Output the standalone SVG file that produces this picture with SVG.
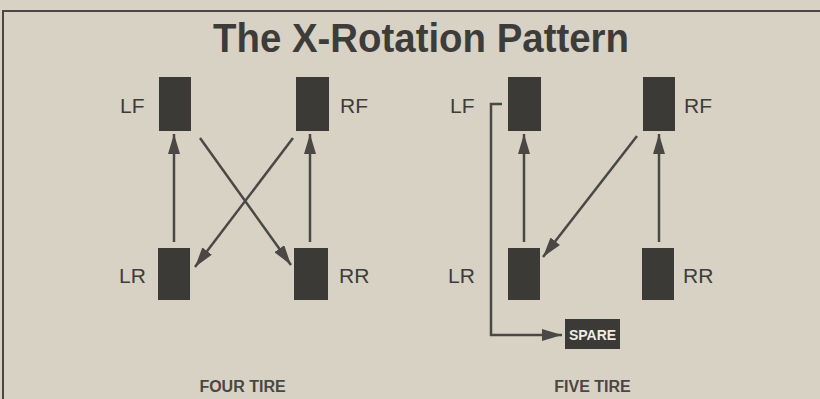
<svg xmlns="http://www.w3.org/2000/svg" width="820" height="399" viewBox="0 0 820 399">
<defs>
<style>
.bg{fill:#d8d2c5}
.frame{fill:none;stroke:#4a4744;stroke-width:2}
.tire{fill:#3c3a37}
.lbl{font-family:"Liberation Sans",Arial,sans-serif;font-size:21px;fill:#3e3c39}
.title{font-family:"Liberation Sans",Arial,sans-serif;font-weight:bold;font-size:40px;fill:#3e3c39}
.cap{font-family:"Liberation Sans",Arial,sans-serif;font-weight:bold;font-size:16px;fill:#4a4744}
.spare{font-family:"Liberation Sans",Arial,sans-serif;font-weight:bold;font-size:14px;fill:#f0ece4}
.con{fill:none;stroke:#4a4845;stroke-width:2.5}
</style>
<marker id="ah" viewBox="0 0 20 12" refX="20" refY="6" markerWidth="20" markerHeight="12" markerUnits="userSpaceOnUse" orient="auto">
<path d="M0,0 L20,6 L0,12 Z" fill="#4a4845"/>
</marker>
</defs>
<rect class="bg" x="0" y="0" width="820" height="399"/>
<path class="frame" d="M3,399 V11 H820"/>
<text class="title" x="421" y="52" text-anchor="middle" textLength="416" lengthAdjust="spacingAndGlyphs">The X-Rotation Pattern</text>

<g id="four-LF"><rect class="tire" x="159" y="77" width="32" height="54"/><text class="lbl" x="120" y="113">LF</text></g>
<g id="four-RF"><rect class="tire" x="296" y="77" width="33" height="54"/><text class="lbl" x="340" y="113">RF</text></g>
<g id="four-LR"><rect class="tire" x="158" y="248" width="32" height="52"/><text class="lbl" x="119" y="283">LR</text></g>
<g id="four-RR"><rect class="tire" x="294" y="248" width="34" height="52"/><text class="lbl" x="339" y="283">RR</text></g>

<g id="five-LF"><rect class="tire" x="508" y="77" width="33" height="54"/><text class="lbl" x="450" y="113">LF</text></g>
<g id="five-RF"><rect class="tire" x="643" y="77" width="32" height="54"/><text class="lbl" x="684" y="113">RF</text></g>
<g id="five-LR"><rect class="tire" x="508" y="248" width="32" height="52"/><text class="lbl" x="448" y="283">LR</text></g>
<g id="five-RR"><rect class="tire" x="642" y="248" width="32" height="52"/><text class="lbl" x="683" y="283">RR</text></g>
<g id="five-SPARE"><rect class="tire" x="565" y="319" width="55" height="30"/><text class="spare" x="592.5" y="339.5" text-anchor="middle">SPARE</text></g>

<g id="connectors">
<line class="con" x1="174" y1="242" x2="174" y2="134" marker-end="url(#ah)"/>
<line class="con" x1="310" y1="242" x2="310" y2="134" marker-end="url(#ah)"/>
<line class="con" x1="200" y1="138" x2="291" y2="265" marker-end="url(#ah)"/>
<line class="con" x1="293" y1="138" x2="195" y2="267" marker-end="url(#ah)"/>
<line class="con" x1="524" y1="242" x2="524" y2="134" marker-end="url(#ah)"/>
<line class="con" x1="659" y1="242" x2="659" y2="134" marker-end="url(#ah)"/>
<line class="con" x1="637" y1="136" x2="543" y2="257" marker-end="url(#ah)"/>
<path class="con" d="M502,104 H491 V335 H562" marker-end="url(#ah)"/>
</g>

<text class="cap" x="242.5" y="392" text-anchor="middle">FOUR TIRE</text>
<text class="cap" x="592.5" y="392" text-anchor="middle">FIVE TIRE</text>
</svg>
